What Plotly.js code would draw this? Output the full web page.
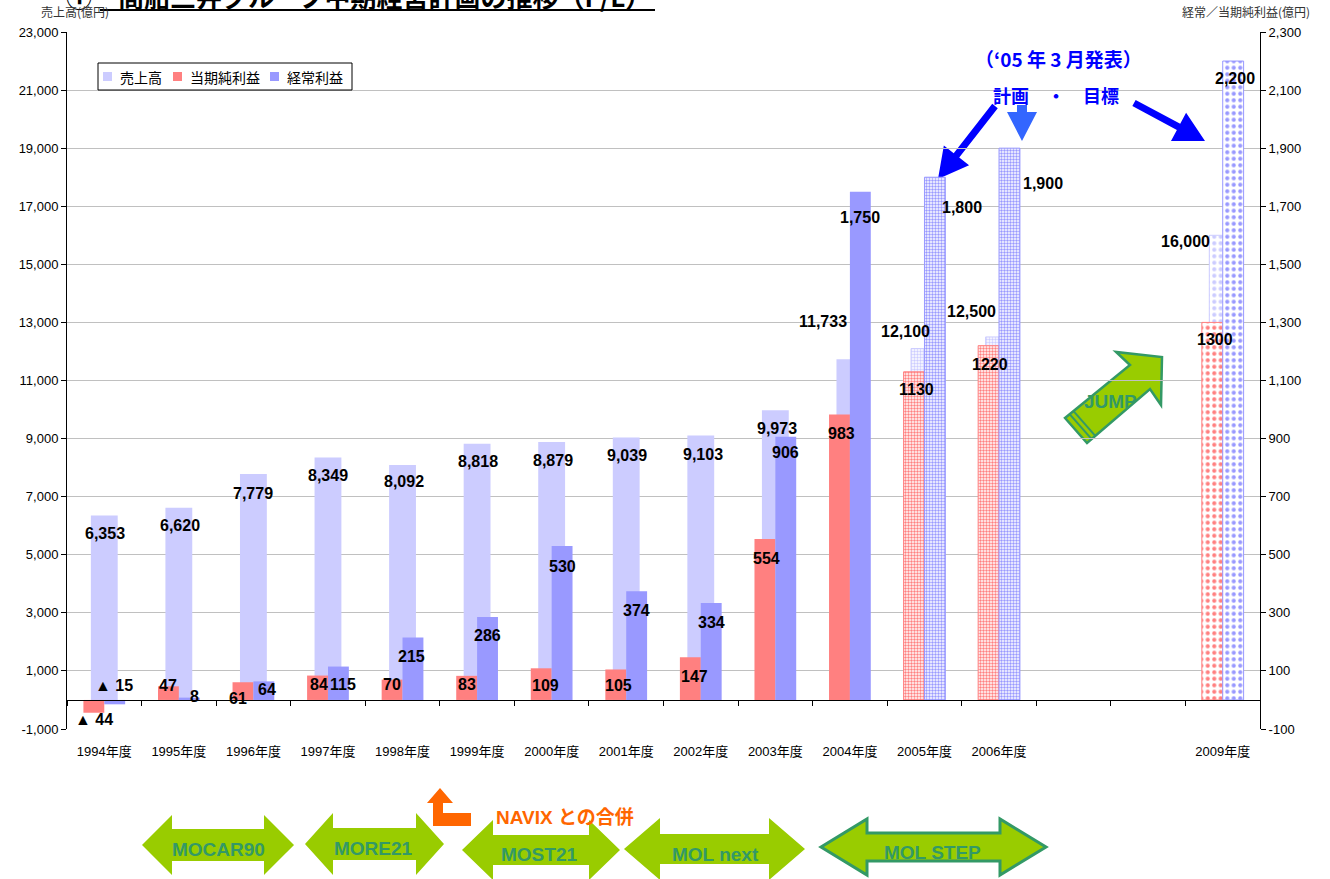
<!DOCTYPE html>
<html><head><meta charset="utf-8">
<script src="https://cdn.plot.ly/plotly-3.0.1.min.js"></script>
<style>html,body{margin:0;padding:0;background:#fff}#chart{width:1330px;height:879px}</style>
</head><body><div id="chart"></div>
<script>
// ---------------- data ----------------
const years = [1994,1995,1996,1997,1998,1999,2000,2001,2002,2003,2004,2005,2006,2009];
const sales = [6353,6620,7779,8349,8092,8818,8879,9039,9103,9973,11733,12100,12500,16000];
const netProfit = [-44,47,61,84,70,83,109,105,147,554,983,1130,1220,1300];
const ordinaryProfit = [-15,8,64,115,215,286,530,374,334,906,1750,1800,1900,2200];
const planKind = ['','','','','','','','','','','','plan','plan','target'];
const tickYears = [1994,1995,1996,1997,1998,1999,2000,2001,2002,2003,2004,2005,2006,2007,2008,2009];
const tickLabels = ['1994年度','1995年度','1996年度','1997年度','1998年度','1999年度','2000年度','2001年度','2002年度','2003年度','2004年度','2005年度','2006年度','','','2009年度'];
const seriesNames = ['売上高','当期純利益','経常利益'];

// ---------------- label placement (px offsets: dx right, dy down) ----------------
const salesShift = [[1,18],[1,18],[0,19],[0,18],[1,17],[1,18],[1,18],[1,18],[2,19],[2,18],[-27,-38],[-19,-17],[-28,-25],[-37,6]];
const netShift = [[0,7],[0,-1],[-5,16],[1,9],[0,5],[0,9],[4,17],[3,16],[4,19],[2,19],[2,19],[2,18],[1,19],[3,17]];
const ordShift = [[-1,-19],[5,-1],[3,8],[5,18],[-1,19],[0,19],[0,20],[0,19],[0,20],[0,16],[0,26],[27,30],[34,35],[2,17]];

// ---------------- geometry ----------------
const W=1330,H=879,M={l:67,r:70,t:32,b:150};
const PW=W-M.l-M.r, PH=H-M.t-M.b;
const px=x=>(x-M.l)/PW, py=y=>(H-M.b-y)/PH;
const poly=pts=>'M'+pts.map(p=>px(p[0]).toFixed(5)+','+py(p[1]).toFixed(5)).join('L')+'Z';

const C_SALES='#CCCCFF', C_NET='#FF8080', C_ORD='#9999FF';
const SW=0.36, PWID=0.28;

function patternFor(color){
  return {
    shape: planKind.map(k=>k?'.':''),
    size: planKind.map(k=>k==='target'?6.5:3),
    solidity: planKind.map(k=>k==='target'?0.32:0.5),
    fgcolor: color, bgcolor: '#ffffff', fillmode:'replace'
  };
}
function lineFor(color){
  return {color: color, width: planKind.map(k=>k?1:0)};
}

const traces = [
  {type:'bar', name:seriesNames[0], x:years, y:sales, xaxis:'x', yaxis:'y',
   width:SW, offset:-SW/2,
   marker:{color:C_SALES, line:lineFor(C_SALES), pattern:patternFor(C_SALES)}, hoverinfo:'skip'},
  {type:'bar', name:seriesNames[1], x:years, y:netProfit, xaxis:'x2', yaxis:'y2',
   width:PWID, offset:-PWID,
   marker:{color:C_NET, line:lineFor(C_NET), pattern:patternFor(C_NET)}, hoverinfo:'skip'},
  {type:'bar', name:seriesNames[2], x:years, y:ordinaryProfit, xaxis:'x2', yaxis:'y2',
   width:PWID, offset:0,
   marker:{color:C_ORD, line:lineFor(C_ORD), pattern:patternFor(C_ORD)}, hoverinfo:'skip'}
];

// ---------------- labels ----------------
const LBL_FONT={family:'Liberation Sans, "Noto Sans CJK JP", sans-serif', size:16, color:'#000', weight:'bold'};
const fmtComma=v=>(v<0?'▲ ':'')+Math.abs(v).toLocaleString('en-US');
const fmtPlain=v=>(v<0?'▲ ':'')+String(Math.abs(v));
const annotations=[];
years.forEach((yr,i)=>{
  annotations.push({x:yr, y:sales[i], xref:'x', yref:'y', text:fmtComma(sales[i]), showarrow:false,
    xshift:salesShift[i][0], yshift:-salesShift[i][1], font:LBL_FONT});
  annotations.push({x:yr-PWID/2, y:netProfit[i], xref:'x2', yref:'y2', text:fmtPlain(netProfit[i]), showarrow:false,
    xshift:netShift[i][0], yshift:-netShift[i][1], font:LBL_FONT});
  annotations.push({x:yr+PWID/2, y:ordinaryProfit[i], xref:'x2', yref:'y2', text:fmtComma(ordinaryProfit[i]), showarrow:false,
    xshift:ordShift[i][0], yshift:-ordShift[i][1], font:LBL_FONT});
});

function txt(t,x,y,font,extra){
  annotations.push(Object.assign({text:t, x:px(x), y:py(y), xref:'paper', yref:'paper', showarrow:false,
    xanchor:'center', yanchor:'middle', font:font}, extra||{}));
}
const CJK='"Noto Sans CJK JP", Liberation Sans, sans-serif';
txt('①　商船三井グループ中期経営計画の推移（P/L）',358,-4,{family:CJK,size:26,color:'#000',weight:'bold'});
txt('売上高(億円)',75,12,{family:CJK,size:12,color:'#333'});
txt('経常／当期純利益(億円)',1246,12,{family:CJK,size:12,color:'#333'});
const BLUE_FONT={family:CJK,size:18,color:'#0000FF',weight:'bold'};
txt('（‘05 年 3 月発表）',1058,58,{family:CJK,size:19,color:'#0000FF',weight:'bold'});
txt('計画　・　目標',1056,95,BLUE_FONT);
const TEAL_FONT={family:'Liberation Sans, sans-serif',size:19,color:'#339966',weight:'bold'};
txt('MOCAR90',218,849,TEAL_FONT);
txt('MORE21',373,848,TEAL_FONT);
txt('MOST21',539,855,TEAL_FONT);
txt('MOL next',715,855,TEAL_FONT);
txt('MOL STEP',933,852,TEAL_FONT);
txt('JUMP',1110,401,TEAL_FONT);
txt('NAVIX との合併',565,817,{family:'Liberation Sans, "Noto Sans CJK JP", sans-serif',size:19,color:'#FF6600',weight:'bold'});

// ---------------- legend (drawn manually) ----------------
const shapes=[];
shapes.push({type:'rect',xref:'paper',yref:'paper',x0:px(98),x1:px(352),y0:py(63),y1:py(90),fillcolor:'#fff',line:{color:'#000',width:1},layer:'above'});
const legendColors=[C_SALES,C_NET,C_ORD];
const legendSym=[103,173,270];
seriesNames.forEach((nm,i)=>{
  const x0=legendSym[i];
  shapes.push({type:'rect',xref:'paper',yref:'paper',x0:px(x0),x1:px(x0+9),y0:py(72),y1:py(81),fillcolor:legendColors[i],line:{width:0},layer:'above'});
  annotations.push({text:nm,x:px(x0+15),y:py(77),xref:'paper',yref:'paper',xanchor:'left',yanchor:'middle',showarrow:false,
    font:{family:CJK,size:14,color:'#000'}});
});

// ---------------- decorative shapes ----------------
shapes.push({type:'line',xref:'paper',yref:'paper',x0:px(100),x1:px(655),y0:py(10),y1:py(10),line:{color:'#000',width:2}});
function dbl(x0,x1,yc,hh,sh,hl){
  return [[x0,yc],[x0+hl,yc-hh],[x0+hl,yc-sh],[x1-hl,yc-sh],[x1-hl,yc-hh],[x1,yc],[x1-hl,yc+hh],[x1-hl,yc+sh],[x0+hl,yc+sh],[x0+hl,yc+hh]];
}
function arrowPts(tail,tip,s,h,L){
  const dx=tip[0]-tail[0], dy=tip[1]-tail[1], d=Math.hypot(dx,dy);
  const u=[dx/d,dy/d], n=[-u[1],u[0]];
  const b=[tip[0]-u[0]*L, tip[1]-u[1]*L];
  return [[tail[0]+n[0]*s,tail[1]+n[1]*s],[b[0]+n[0]*s,b[1]+n[1]*s],[b[0]+n[0]*h,b[1]+n[1]*h],tip,
          [b[0]-n[0]*h,b[1]-n[1]*h],[b[0]-n[0]*s,b[1]-n[1]*s],[tail[0]-n[0]*s,tail[1]-n[1]*s]];
}
const GREEN='#99CC00';
function addShape(pts,fill,lc,lw){
  shapes.push({type:'path',xref:'paper',yref:'paper',path:poly(pts),fillcolor:fill,line:{color:lc||fill,width:lw||0},layer:'below'});
}
addShape(dbl(142,294,845,30,16,30),GREEN);
addShape(dbl(305,444,844,31,16,28),GREEN);
addShape(dbl(462,620,850,30,15,31),GREEN);
addShape(dbl(624,805,849,31,15,36),GREEN);
addShape(dbl(821,1046,847,28,14,46),GREEN,'#339966',3);
addShape([[440,788],[453,803],[443,803],[443,813],[471,813],[471,826],[433,826],[433,803],[427,803]],'#FF6600');
addShape(arrowPts([995,106],[938,179],3.5,16,30),'#0000FF');
addShape(arrowPts([1022,105],[1022,141],5,15,29),'#3366FF');
addShape(arrowPts([1134,103],[1205,141],3.5,16,30),'#0000FF');
// JUMP arrow
addShape([[1065,418],[1130,365],[1116,352],[1162,357],[1161,405],[1150,389],[1087,443]],GREEN,'#339966',2.5);
[6,11].forEach(d=>{
  const u=[0.774,-0.631];
  shapes.push({type:'line',xref:'paper',yref:'paper',x0:px(1065+u[0]*d),y0:py(418+u[1]*d),x1:px(1087+u[0]*d),y1:py(443+u[1]*d),line:{color:'#339966',width:2},layer:'below'});
});

// ---------------- axes ----------------
const leftTicks=[], leftText=[], rightTicks=[], rightText=[];
for(let v=-1000; v<=23000; v+=2000){ leftTicks.push(v); leftText.push((v<0?'-':'')+Math.abs(v).toLocaleString('en-US')); }
for(let v=-100; v<=2300; v+=200){ rightTicks.push(v); rightText.push((v<0?'-':'')+Math.abs(v).toLocaleString('en-US')); }
const xr=[tickYears[0]-0.5, tickYears[tickYears.length-1]+0.5];
const bounds=[]; for(let b=xr[0]; b<=xr[1]+1e-9; b+=1) bounds.push(b);

const TICKFONT={family:'Liberation Sans, "Noto Sans CJK JP", sans-serif', size:13, color:'#000'};
const layout={
  width:W, height:H, margin:M, paper_bgcolor:'#fff', plot_bgcolor:'#fff',
  barmode:'overlay', showlegend:false,
  font:{family:'Liberation Sans, "Noto Sans CJK JP", sans-serif', color:'#000'},
  xaxis:{range:xr, tickmode:'array', tickvals:tickYears, ticktext:tickLabels, ticks:'', showline:false,
    showgrid:false, zeroline:false, tickfont:TICKFONT, ticklabelstandoff:13, fixedrange:true},
  xaxis2:{range:xr, overlaying:'x', anchor:'free', position:1/24, tickmode:'array', tickvals:bounds,
    showticklabels:false, ticks:'outside', ticklen:5, tickcolor:'#000', showline:true, linecolor:'#000', linewidth:1,
    showgrid:false, zeroline:false, fixedrange:true},
  yaxis:{range:[-1000,23000], tickmode:'array', tickvals:leftTicks, ticktext:leftText, ticks:'outside', ticklen:5,
    tickcolor:'#000', showline:true, linecolor:'#000', linewidth:1, showgrid:true, gridcolor:'#C0C0C0', gridwidth:1,
    zeroline:false, tickfont:TICKFONT, fixedrange:true},
  yaxis2:{range:[-100,2300], overlaying:'y', side:'right', anchor:'free', position:1, tickmode:'array', tickvals:rightTicks,
    ticktext:rightText, ticks:'outside', ticklen:5, tickcolor:'#000', showline:true, linecolor:'#000', linewidth:1,
    showgrid:false, zeroline:false, tickfont:TICKFONT, fixedrange:true},
  annotations:annotations, shapes:shapes
};
Plotly.newPlot('chart', traces, layout, {displayModeBar:false, staticPlot:true});
</script></body></html>
